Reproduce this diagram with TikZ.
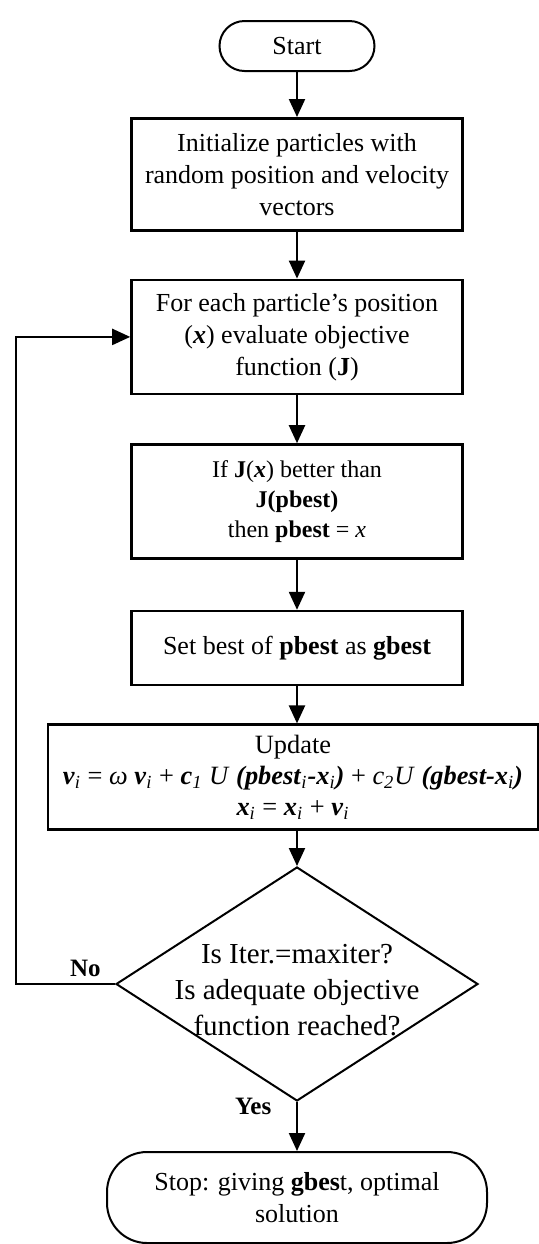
\documentclass[tikz,border=0pt]{standalone}
\usepackage{fontspec}
\setmainfont{Liberation Serif}
\usetikzlibrary{arrows.meta,positioning,shapes.geometric}
\newcommand{\bi}[1]{\textbf{\textit{#1}}}
\newcommand{\lowi}[1]{\textsubscript{\textit{#1}}}

\begin{document}
\begin{tikzpicture}[x=0.5pt,y=-0.5pt,->,>={Triangle[length=9pt,width=8pt]},line width=1.1pt,font=\fontsize{13}{16}\selectfont]
  \tikzstyle{block}=[rectangle,draw,line width=1.3pt,minimum width=165.5pt,align=center,inner sep=2pt]
  \tikzstyle{terminal}=[rectangle,draw,line width=1pt,align=center]
  \tikzstyle{choice}=[diamond,draw,line width=1pt,minimum width=181pt,minimum height=117pt,inner sep=0pt]

  \useasboundingbox (0,0) rectangle (539,1244);

  \node[terminal,minimum width=77.5pt,minimum height=25pt,rounded corners=12.5pt] (start) at (297,46) {Start};
  \node[block,minimum height=56pt]   (init) [below=22.5pt of start] {Initialize particles with\\random position and velocity\\vectors};
  \node[block,minimum height=57pt]   (eval) [below=23.5pt of init] {For each particle's position\\(\bi{x}) evaluate objective\\function (\textbf{J})};
  \node[block,minimum height=57pt,font=\fontsize{12}{15}\selectfont] (pbest) [below=24pt of eval] {If \textbf{J}(\bi{x}) better than\\\textbf{J(pbest)}\\then \textbf{pbest} = \textit{x}};
  \node[block,minimum height=37pt]   (gbest) [below=25pt of pbest] {Set best of \textbf{pbest} as \textbf{gbest}};
  \node[block,minimum height=52.5pt,minimum width=245pt,xshift=-2pt,font=\fontsize{13.2}{15.5}\selectfont] (update) [below=18.5pt of gbest]
    {Update\\
     \bi{v}\lowi{i} = \textit{ω} \bi{v}\lowi{i} + \bi{c}\lowi{1} \textit{U} \bi{(pbest}\lowi{i}\bi{-x}\lowi{i}\bi{)} + \textit{c}\lowi{2}\textit{U} \bi{(gbest-x}\lowi{i}\bi{)}\\
     \bi{x}\lowi{i} = \bi{x}\lowi{i} + \bi{v}\lowi{i}};
  \node[choice,label={[align=center,yshift=-3pt,font=\fontsize{14.5}{18}\selectfont]center:Is Iter.=maxiter?\\Is adequate objective\\function reached?}] (check) [below=17.5pt of update.south -| start] {};
  \node[terminal,minimum width=190pt,minimum height=45.5pt,rounded corners=20pt] (stop) [below=24.5pt of check]
    {Stop: giving \textbf{gbes}t, optimal\\solution};

  \coordinate (loopx) at (16,0);

  \path (start)  edge (init)
        (init)   edge (eval)
        (eval)   edge (pbest)
        (pbest)  edge (gbest)
        (gbest)  edge (gbest |- update.north)
        (update.south -| check) edge (check)
        (check)  edge node[left=9pt,pos=0.1,font=\fontsize{12.5}{15}\selectfont\bfseries] {Yes} (stop);

  \draw (check.west) -- node[above,pos=0.3,font=\fontsize{12.5}{15}\selectfont\bfseries] {No} (check.west -| loopx) |- (eval.west);
\end{tikzpicture}
\end{document}
